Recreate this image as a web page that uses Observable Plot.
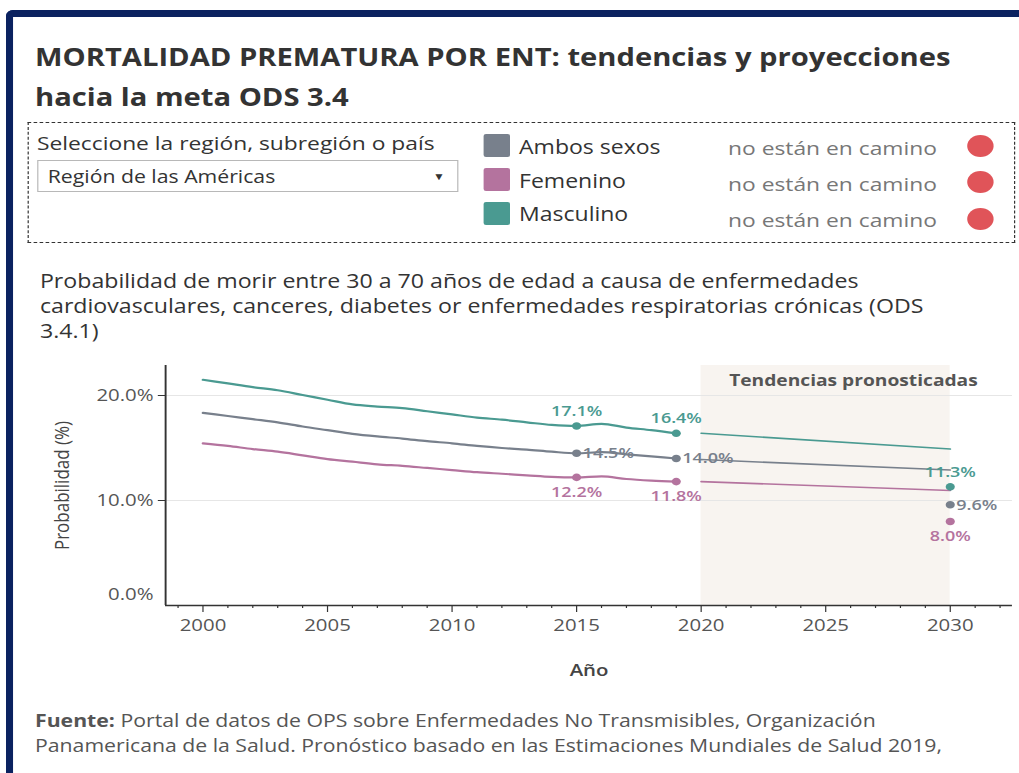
<!DOCTYPE html>
<html>
<head>
<meta charset="utf-8">
<script src="https://cdn.jsdelivr.net/npm/d3@7"></script>
<script src="https://cdn.jsdelivr.net/npm/@observablehq/plot@0.6"></script>
<style>
html, body { margin: 0; padding: 0; background: #fff; overflow: hidden; width: 1019px; height: 773px; }
#page { position: absolute; left: 0; top: 0; width: 849.17px; height: 773px; transform: scaleX(1.2); transform-origin: 0 0;
        font-family: 'Open Sans', sans-serif; color: #333; }
.abs { position: absolute; white-space: nowrap; }
#frame { position: absolute; left: 5px; top: 10px; width: 900px; height: 900px; border-top: 7px solid #0b2260;
         border-left: 6px solid #0b2260; border-radius: 6px 0 0 0; }
#title { left: 29.2px; top: 37px; font-size: 24.3px; line-height: 40px; font-weight: 700; color: #333; }
#box { position: absolute; left: 22.5px; top: 122px; width: 823.5px; height: 121px; box-sizing: border-box; border: 1.5px dashed #333; }
#sel { left: 30.8px; top: 131px; font-size: 19px; line-height: 24px; color: #333; }
#dd { position: absolute; left: 30.8px; top: 160px; width: 351px; height: 32px; box-sizing: border-box; border: 1px solid #b8b8b8; background: #fff; }
#ddtext { left: 8px; top: 0; font-size: 17.7px; line-height: 30px; color: #333; }
#ddarrow { right: 10px; top: 0; font-size: 10px; line-height: 30px; color: #333; }
.sw { position: absolute; left: 402.8px; width: 22.5px; height: 23px; border-radius: 2px; }
.lg { left: 432.5px; font-size: 19.2px; line-height: 26px; color: #333; }
.st { left: 606.7px; font-size: 19px; line-height: 26px; color: #777; }
.rd { position: absolute; left: 805.7px; width: 22px; height: 22px; border-radius: 50%; background: #e05459; }
#sub { left: 33.3px; top: 267.5px; font-size: 19.3px; line-height: 25px; color: #333; }
#foot { left: 29.2px; top: 707.5px; font-size: 17.7px; line-height: 25px; color: #555; }
#chart { position: absolute; left: 0; top: 355px; }
</style>
</head>
<body>
<div id="page">
  <div id="frame"></div>
  <div id="title" class="abs">MORTALIDAD PREMATURA POR ENT: tendencias y proyecciones<br>hacia la meta ODS 3.4</div>
  <div id="box"></div>
  <div id="sel" class="abs">Seleccione la región, subregión o país</div>
  <div id="dd"><div id="ddtext" class="abs">Región de las Américas</div><div id="ddarrow" class="abs">▼</div></div>
  <div id="legend"></div>
  <div id="sub" class="abs">Probabilidad de morir entre 30 a 70 años de edad a causa de enfermedades<br>cardiovasculares, canceres, diabetes or enfermedades respiratorias crónicas (ODS<br>3.4.1)</div>
  <div id="chart"></div>
  <div id="foot" class="abs"><b>Fuente:</b> Portal de datos de OPS sobre Enfermedades No Transmisibles, Organización<br>Panamericana de la Salud. Pronóstico basado en las Estimaciones Mundiales de Salud 2019,</div>
</div>
<script>
// ---- Data ----
const series = ["Ambos sexos", "Femenino", "Masculino"];
const colors = ["#78808c", "#b4739e", "#4a9a91"];
const statusText = ["no están en camino", "no están en camino", "no están en camino"];

const years = [2000, 2001, 2002, 2003, 2004, 2005, 2006, 2007, 2008, 2009,
               2010, 2011, 2012, 2013, 2014, 2015, 2016, 2017, 2018, 2019];
const ambos =     [18.35, 18.05, 17.75, 17.45, 17.05, 16.7, 16.35, 16.1, 15.9, 15.65,
                   15.45, 15.2, 15.0, 14.85, 14.65, 14.5, 14.6, 14.4, 14.2, 14.0];
const femenino =  [15.45, 15.2, 14.9, 14.65, 14.3, 13.95, 13.7, 13.45, 13.3, 13.1,
                   12.9, 12.7, 12.55, 12.4, 12.25, 12.2, 12.3, 12.05, 11.9, 11.8];
const masculino = [21.5, 21.15, 20.8, 20.5, 20.05, 19.6, 19.15, 18.95, 18.8, 18.5,
                   18.2, 17.9, 17.7, 17.45, 17.2, 17.1, 17.3, 16.95, 16.7, 16.4];

const forecastYears = [2020, 2030];
const ambosForecast = [13.9, 12.9];
const femeninoForecast = [11.8, 10.95];
const masculinoForecast = [16.4, 14.9];

const labelYears = [2015, 2019];
const targetYear = 2030;
const targets = [9.6, 8.0, 11.3]; // ambos, femenino, masculino

const forecastBand = {start: 2020, end: 2030};
const bandLabel = "Tendencias pronosticadas";
const yLabel = "Probabilidad (%)";
const xLabel = "Año";
const majorTicks = [2000, 2005, 2010, 2015, 2020, 2025, 2030];
const minorTicks = [1999, 2001, 2002, 2003, 2004, 2006, 2007, 2008, 2009, 2011, 2012, 2013, 2014,
                    2016, 2017, 2018, 2019, 2021, 2022, 2023, 2024, 2026, 2027, 2028, 2029, 2031, 2032];
const yTicks = [10, 20];
const xDomain = [1998.5, 2032.5];
const yDomain = [0, 22.86];

// ---- Legend (HTML) ----
const legend = document.getElementById("legend");
const swTops = [134, 168, 202], lgTops = [134, 168, 201], stTops = [135, 171, 207], rdTops = [135, 171.3, 208];
series.forEach((s, i) => {
  legend.insertAdjacentHTML("beforeend",
    `<div class="sw" style="top:${swTops[i]}px;background:${colors[i]}"></div>` +
    `<div class="abs lg" style="top:${lgTops[i]}px">${s}</div>` +
    `<div class="abs st" style="top:${stTops[i]}px">${statusText[i]}</div>` +
    `<div class="rd" style="top:${rdTops[i]}px"></div>`);
});

// ---- Tables ----
const histVals = [ambos, femenino, masculino];
const fcVals = [ambosForecast, femeninoForecast, masculinoForecast];
const hist = series.flatMap((s, i) => years.map((y, j) => ({series: s, year: y, value: histVals[i][j]})));
const fc = series.flatMap((s, i) => forecastYears.map((y, j) => ({series: s, year: y, value: fcVals[i][j]})));
const pts = hist.filter(d => labelYears.includes(d.year));
const tgt = series.map((s, i) => ({series: s, year: targetYear, value: targets[i]}));
const allPts = pts.concat(tgt);
const fmt = d => d.value.toFixed(1) + "%";

const W = 1019 / 1.2;
const lblStyle = {x: "year", y: "value", text: fmt, fill: "series", fontSize: 15, fontWeight: 600};

const chart = Plot.plot({
  width: W, height: 335,
  marginLeft: 137.5, marginRight: W - 843.3, marginTop: 10, marginBottom: 85,
  style: {fontFamily: "'Open Sans', sans-serif", fontSize: "17px", color: "#555", background: "transparent", overflow: "visible"},
  x: {domain: xDomain, label: null},
  y: {domain: yDomain, label: null},
  color: {domain: series, range: colors},
  marks: [
    Plot.rect([forecastBand], {x1: "start", x2: "end", fill: "#f8f4f0"}),
    Plot.gridY(yTicks, {stroke: "#e6e6e6", strokeOpacity: 1}),
    Plot.axisY({ticks: yTicks, tickSize: 6, tickPadding: 4, tickFormat: d => d.toFixed(1) + "%", stroke: "#333", fill: "#555", fontSize: 17, label: null}),
    Plot.axisY({ticks: [0], tickSize: 0, tickPadding: 10, dy: -11, tickFormat: d => d.toFixed(1) + "%", fill: "#555", fontSize: 17, label: null}),
    Plot.axisX({ticks: majorTicks, tickSize: 7, tickPadding: 6, tickFormat: d => String(d), stroke: "#333", fill: "#555", fontSize: 17, label: null}),
    Plot.axisX({ticks: minorTicks, tickSize: 3, tickFormat: () => "", stroke: "#333", label: null}),
    Plot.ruleY([yDomain[0]], {stroke: "#333", strokeWidth: 1.6}),
    Plot.ruleX([xDomain[0]], {stroke: "#333", strokeWidth: 1.6}),
    Plot.text([bandLabel], {text: d => d, frameAnchor: "top-right", textAnchor: "end", lineAnchor: "middle", dx: -29, dy: 15, fontSize: 16, fontWeight: 700, fill: "#555"}),
    Plot.text([yLabel], {text: d => d, frameAnchor: "left", textAnchor: "middle", rotate: -90, dx: -86, fontSize: 17, fill: "#444"}),
    Plot.text([xLabel], {text: d => d, frameAnchor: "bottom", lineAnchor: "middle", dy: 65, fontSize: 17, fontWeight: 600, fill: "#444"}),
    Plot.line(hist, {x: "year", y: "value", z: "series", stroke: "series", strokeWidth: 2.2, curve: "monotone-x"}),
    Plot.line(fc, {x: "year", y: "value", z: "series", stroke: "series", strokeWidth: 1.6}),
    Plot.dot(allPts, {x: "year", y: "value", fill: "series", r: 3.8}),
    Plot.text(allPts.filter(d => d.series === series[2]), {...lblStyle, dy: -15}),
    Plot.text(allPts.filter(d => d.series === series[0]), {...lblStyle, dx: 5, textAnchor: "start"}),
    Plot.text(allPts.filter(d => d.series === series[1]), {...lblStyle, dy: 15})
  ]
});
document.getElementById("chart").appendChild(chart);
</script>
</body>
</html>
